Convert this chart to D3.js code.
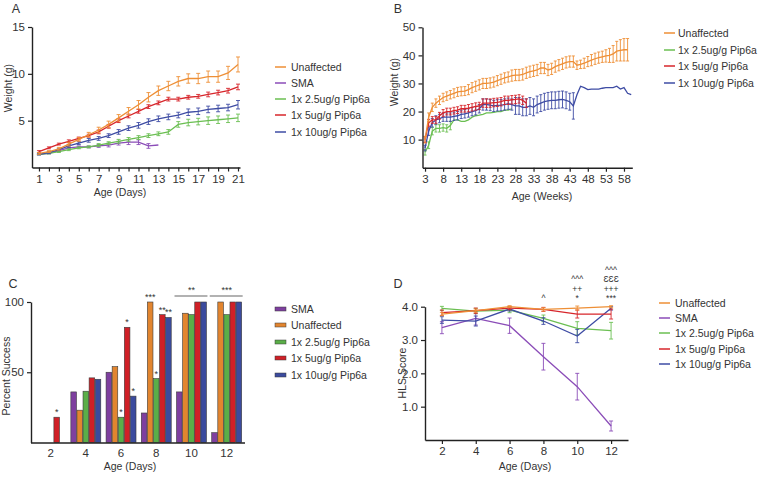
<!DOCTYPE html>
<html><head><meta charset="utf-8">
<script src="https://d3js.org/d3.v7.min.js"></script>
<style>
body{margin:0;background:#fff}
text{font-family:"Liberation Sans",Arial,sans-serif;fill:#333}
</style></head>
<body><svg id="c" width="758" height="477"></svg>
<script>
// ---------- Panel A data (Weight, days) ----------
const daysA = [1,2,3,4,5,6,7,8,9,10,11,12,13,14,15,16,17,18,19,20,21];
const aUnaff    = [1.5,1.7,2.0,2.5,3.0,3.5,4.0,4.6,5.3,6.0,6.7,7.5,8.2,8.7,9.2,9.5,9.5,9.7,9.7,10.1,11.0];
const aUnaffErr = [0.1,0.1,0.15,0.2,0.2,0.25,0.3,0.35,0.35,0.4,0.45,0.5,0.5,0.5,0.5,0.5,0.55,0.6,0.6,0.7,0.8];
const aSMA      = [1.4,1.5,1.8,2.1,2.2,2.2,2.3,2.4,2.6,2.7,2.7,2.3,2.4];
const aSMAErr   = [0.05,0.05,0.1,0.1,0.1,0.1,0.15,0.2,0.2,0.25,0.25,0.25,0];
const aLow      = [1.4,1.5,1.7,1.9,2.1,2.2,2.4,2.6,2.8,3.0,3.2,3.4,3.6,3.8,4.6,4.8,4.9,5.0,5.1,5.2,5.3];
const aLowErr   = [0.05,0.05,0.1,0.1,0.1,0.1,0.15,0.15,0.2,0.2,0.2,0.2,0.2,0.25,0.3,0.35,0.35,0.4,0.4,0.4,0.4];
const aMid      = [1.7,2.1,2.5,2.8,3.1,3.4,3.8,4.4,5.0,5.5,6.0,6.5,6.9,7.3,7.3,7.5,7.6,7.8,8.0,8.2,8.6];
const aMidErr   = [0.1,0.1,0.1,0.15,0.15,0.15,0.2,0.2,0.2,0.2,0.2,0.2,0.2,0.2,0.2,0.2,0.2,0.25,0.25,0.25,0.3];
const aHigh     = [1.4,1.6,1.9,2.3,2.6,2.9,3.1,3.4,3.8,4.2,4.5,4.9,5.2,5.4,5.6,5.9,6.0,6.2,6.3,6.4,6.7];
const aHighErr  = [0.05,0.1,0.1,0.15,0.15,0.2,0.2,0.2,0.25,0.25,0.3,0.3,0.3,0.3,0.3,0.35,0.35,0.35,0.35,0.35,0.45];
const aTicks = [1,3,5,7,9,11,13,15,17,19,21];
const aYTicks = [5,10,15];

// ---------- Panel B data (Weight, weeks) ----------
const bUnaff = [10,18,21.5,23,24,25,25.5,26,26.5,27,27.2,27.3,27.8,28.5,29,29.5,30,30,30.2,30.5,31,31.5,32,32.3,32.8,33,33,33.2,33.8,34.2,34.5,34.8,35.5,35.5,34.8,35.2,36,36.5,37,37.5,37.8,37.8,36.5,36.8,37.2,37.8,38.3,38.8,39.2,39.5,39.8,40,40.5,41.5,41.8,42,42];
const bUnaffErr = [1.2,1.5,1.5,1.5,1.5,1.5,1.5,1.5,1.6,1.6,1.6,1.6,1.8,1.8,1.8,1.8,1.8,1.8,1.8,1.8,1.8,1.8,1.8,1.8,2,2,2,2,2,2,2,2,2,2,2,2,2,2,2,2,2,2,1.5,1.5,1.8,1.8,2,2,2,2,2.2,2.5,3,3.5,3.8,4,4];
const bLow = [5.5,8,13,14,14,14.3,14,15,17,17,16.5,16.5,17,18,18.5,18.7,19,19.5,19.5,19.7,20,20,20.5,20.5,21];
const bLowErr = [1,1.2,1.3,1.3,1.3,1.3,1.3,1.5,0,0,0,0,0,0,0,0,0,0,0,0,0,0,0,0,0];
const bMid = [10,16,17,17,18.5,19.5,20,20,20.3,20.5,21,21,21.2,21.5,21.8,22,23,23,23,23.2,23.3,23.5,24,24,24.2,24.3,24.5,24,23];
const bMidErr = [1,1.2,1.2,1.2,1.2,1.2,1.2,1.2,1.2,1.2,1.2,1.2,1.3,1.3,1.3,1.3,1.5,1.5,1.5,1.5,1.5,1.5,1.5,1.5,1.5,1.5,1.5,1.5,1.5];
const bHigh = [7,13,16,17,17.5,18,18,18,18.3,18.5,19,19.2,19.5,20,20.3,21,22.5,22.5,22.3,22,22.2,22.3,22.5,22.8,22.5,22,22,21.5,21.5,22,21.5,22.5,23,23.5,23.8,24,24,24.2,24.3,24,23.5,22,26,29,28.5,27.8,28,28,28,28.3,28.5,28.5,28.5,29,28,28.5,26.5,26];
const bHighErr = [1,1.5,1.5,1.5,1.5,1.5,1.5,1.5,1.5,1.5,1.5,1.5,1.5,1.5,1.5,1.5,2,2,2,2,2,2,2,2,2,3,3,3,3,3,3,3,3,3,3,3,3,3,3,3,3,4.7,0,0,0,0,0,0,0,0,0,0,0,0,0,0,0,0];
const bTicks = [3,8,13,18,23,28,33,38,43,48,53,58];
const bYTicks = [10,20,30,40,50];

// ---------- Panel C data (Percent success) ----------
const cGroups = ["2","4","6","8","10","12"];
const cSMA   = [0,36,50,21,36,7];
const cUnaff = [0,23,54,100,92,100];
const cLow   = [0,36.5,18,45.5,91,91];
const cMid   = [18,46,82,91,100,100];
const cHigh  = [0,45,33,89,100,100];
const cStars = [["2","mid","*"],["6","low","*"],["6","mid","*"],["6","high","*"],["8","unaff","***"],["8","low","*"],["8","mid","**"],["8","high","**"]];
const cBrackets = [["10","**"],["12","***"]];
const cYTicks = [50,100];

// ---------- Panel D data (HLS score) ----------
const dDays = [2,4,6,8,10,12];
const dUnaff = [3.78,3.88,4.0,3.92,3.96,4.0];
const dUnaffErr = [0.05,0.05,0.03,0.05,0.06,0.03];
const dSMA = [3.37,3.65,3.43,2.5,1.6,0.42];
const dSMAErr = [0.18,0.2,0.23,0.4,0.4,0.15];
const dLow = [3.95,3.87,3.9,3.65,3.35,3.28];
const dLowErr = [0.06,0.08,0.08,0.1,0.2,0.25];
const dMid = [3.82,3.88,3.96,3.92,3.78,3.78];
const dMidErr = [0.08,0.08,0.05,0.06,0.12,0.15];
const dHigh = [3.6,3.57,3.93,3.57,3.12,3.95];
const dHighErr = [0.1,0.15,0.06,0.1,0.2,0.05];
const dAnnot = [[8,["^"]],[10,["^^^","++","*"]],[12,["^^^","ƐƐƐ","+++","***"]]];
const dYTicks = [1,2,3,4];

const lineCol = {unaff:"#EE8F36", sma:"#8B4DB8", low:"#6BBF52", mid:"#D7262B", high:"#3E4CA4"};
const barCol  = {sma:"#7E3F9F", unaff:"#E2852F", low:"#5AAE48", mid:"#D02027", high:"#3B4B9E"};
const names = {unaff:"Unaffected", sma:"SMA", low:"1x 2.5ug/g Pip6a", mid:"1x 5ug/g Pip6a", high:"1x 10ug/g Pip6a"};

const svg = d3.select("#c");

function styleAxis(g){
  g.selectAll(".domain").attr("stroke","#222").attr("stroke-width",1.4);
  g.selectAll(".tick line").attr("stroke","#222").attr("stroke-width",1.2);
  g.selectAll(".tick text").attr("font-size",11.5).attr("fill","#333").attr("font-family",'"Liberation Sans",Arial,sans-serif');
}
function label(x,y,t,size,rot){
  const e = svg.append("text").attr("font-size",size).attr("text-anchor","middle").text(t);
  if(rot) e.attr("transform",`translate(${x},${y}) rotate(-90)`);
  else e.attr("x",x).attr("y",y);
  return e;
}
function series(g,x,y,xs,vals,errs,col,cap){
  const pts = vals.map((v,i)=>({x:xs[i],v,e:errs?errs[i]:0}));
  g.append("path").datum(pts).attr("fill","none").attr("stroke",col).attr("stroke-width",1.3)
    .attr("d",d3.line().x(d=>x(d.x)).y(d=>y(d.v)));
  const eb = g.append("g").attr("stroke",col).attr("stroke-width",0.9);
  pts.filter(d=>d.e>0).forEach(d=>{
    eb.append("line").attr("x1",x(d.x)).attr("x2",x(d.x)).attr("y1",y(d.v-d.e)).attr("y2",y(d.v+d.e));
    [d.v-d.e,d.v+d.e].forEach(t=>eb.append("line").attr("x1",x(d.x)-cap).attr("x2",x(d.x)+cap).attr("y1",y(t)).attr("y2",y(t)));
  });
}
function lineLegend(x0,textX,ys,keys){
  keys.forEach((k,i)=>{
    svg.append("line").attr("x1",x0).attr("x2",x0+11).attr("y1",ys[i]).attr("y2",ys[i]).attr("stroke",lineCol[k]).attr("stroke-width",1.5);
    svg.append("text").attr("x",textX).attr("y",ys[i]+3.7).attr("font-size",10.5).text(names[k]);
  });
}

// ================= Panel A =================
{
  const x = d3.scaleLinear().domain([0.3,21.2]).range([32,240]);
  const y = d3.scaleLinear().domain([0,15]).range([167.5,27]);
  const g = svg.append("g");
  series(g,x,y,daysA,aSMA,aSMAErr,lineCol.sma,2);
  series(g,x,y,daysA,aLow,aLowErr,lineCol.low,2);
  series(g,x,y,daysA,aHigh,aHighErr,lineCol.high,2);
  series(g,x,y,daysA,aMid,aMidErr,lineCol.mid,2);
  series(g,x,y,daysA,aUnaff,aUnaffErr,lineCol.unaff,2);
  svg.append("g").attr("transform","translate(0,167.5)").call(d3.axisBottom(x).tickValues(daysA).tickSize(4).tickSizeOuter(0).tickFormat(d=>aTicks.includes(d)?d:"")).call(styleAxis);
  svg.append("g").attr("transform","translate(32,0)").call(d3.axisLeft(y).tickValues(aYTicks).tickSize(4).tickSizeOuter(0)).call(styleAxis);
  label(16,13,"A",12.5);
  label(12,88,"Weight (g)",10.5,true);
  label(120,196,"Age (Days)",10.5);
  lineLegend(275,291,[67,83,99,115,132],["unaff","sma","low","mid","high"]);
}

// ================= Panel B =================
{
  const x = d3.scaleLinear().domain([2.3,60.3]).range([422.5,632.3]);
  const y = d3.scaleLinear().domain([0,50]).range([167.7,27.3]);
  const g = svg.append("g");
  const wk = n => d3.range(3,3+n);
  series(g,x,y,wk(bLow.length),bLow,bLowErr,lineCol.low,1.5);
  series(g,x,y,wk(bHigh.length),bHigh,bHighErr,lineCol.high,1.5);
  series(g,x,y,wk(bMid.length),bMid,bMidErr,lineCol.mid,1.5);
  series(g,x,y,wk(bUnaff.length),bUnaff,bUnaffErr,lineCol.unaff,1.5);
  svg.append("g").attr("transform","translate(0,167.7)").call(d3.axisBottom(x).tickValues(bTicks).tickSize(4).tickSizeOuter(0)).call(styleAxis);
  svg.append("g").attr("transform","translate(422.5,0)").call(d3.axisLeft(y).tickValues(bYTicks).tickSize(4).tickSizeOuter(0)).call(styleAxis);
  label(398,13,"B",12.5);
  label(398,82,"Weight (g)",10.5,true);
  label(542,200,"Age (Weeks)",10.5);
  lineLegend(664,678,[33,50,66,83],["unaff","low","mid","high"]);
}

// ================= Panel C =================
{
  const keys = ["sma","unaff","low","mid","high"];
  const vals = {sma:cSMA,unaff:cUnaff,low:cLow,mid:cMid,high:cHigh};
  const x0 = d3.scaleBand().domain(cGroups).range([33,244.3]).paddingInner(0.15).paddingOuter(0.075);
  const x1 = d3.scaleBand().domain(keys).range([0,x0.bandwidth()]).paddingInner(0.08);
  const y = d3.scaleLinear().domain([0,100]).range([442.5,302]);
  const g = svg.append("g");
  cGroups.forEach((grp,gi)=>{
    keys.forEach(k=>{
      const v = vals[k][gi];
      if(v<=0) return;
      g.append("rect").attr("x",x0(grp)+x1(k)).attr("width",x1.bandwidth())
        .attr("y",y(v)).attr("height",y(0)-y(v)).attr("fill",barCol[k]).attr("stroke","#3a3a3a").attr("stroke-width",0.6);
    });
  });
  cStars.forEach(([grp,k,t])=>{
    const gi = cGroups.indexOf(grp);
    g.append("text").attr("x",x0(grp)+x1(k)+x1.bandwidth()/2).attr("y",y(vals[k][gi])-2)
      .attr("text-anchor","middle").attr("font-size",9).text(t);
  });
  cBrackets.forEach(([grp,t])=>{
    const gi = cGroups.indexOf(grp);
    const top = d3.max(keys,k=>vals[k][gi]);
    const yy = y(top)-6;
    g.append("line").attr("x1",x0(grp)-2).attr("x2",x0(grp)+x0.bandwidth()+1).attr("y1",yy).attr("y2",yy).attr("stroke","#999").attr("stroke-width",1.4);
    g.append("text").attr("x",x0(grp)+x0.bandwidth()/2).attr("y",yy-3).attr("text-anchor","middle").attr("font-size",9).text(t);
  });
  const xa = svg.append("g").attr("transform","translate(0,442.5)").call(d3.axisBottom(x0).tickSize(0).tickPadding(6).tickSizeOuter(0)).call(styleAxis);
  xa.select(".domain").attr("d","M31,0.5H245");
  svg.append("g").attr("transform","translate(31,0)").call(d3.axisLeft(y).tickValues(cYTicks).tickSize(4).tickSizeOuter(0)).call(styleAxis);
  label(13,288,"C",12.5);
  label(10,376,"Percent Success",10.5,true);
  label(130,470,"Age (Days)",10.5);
  const ys=[309,325,342,358,375];
  keys.forEach((k,i)=>{
    svg.append("rect").attr("x",275).attr("y",ys[i]-2).attr("width",11).attr("height",4).attr("fill",barCol[k]).attr("stroke","#3a3a3a").attr("stroke-width",0.5);
    svg.append("text").attr("x",291).attr("y",ys[i]+3.7).attr("font-size",10.5).text(names[k]);
  });
}

// ================= Panel D =================
{
  const x = d3.scaleLinear().domain([1,13]).range([425,628]);
  const y = d3.scaleLinear().domain([0,4]).range([440,306.7]);
  const g = svg.append("g");
  series(g,x,y,dDays,dSMA,dSMAErr,lineCol.sma,2);
  series(g,x,y,dDays,dLow,dLowErr,lineCol.low,2);
  series(g,x,y,dDays,dHigh,dHighErr,lineCol.high,2);
  series(g,x,y,dDays,dMid,dMidErr,lineCol.mid,2);
  series(g,x,y,dDays,dUnaff,dUnaffErr,lineCol.unaff,2);
  dAnnot.forEach(([d,lines])=>{
    const n = lines.length;
    lines.forEach((t,i)=>{
      g.append("text").attr("x",x(d)).attr("y",301-(n-1-i)*9.3).attr("text-anchor","middle").attr("font-size",8.5).text(t);
    });
  });
  svg.append("g").attr("transform","translate(0,440)").call(d3.axisBottom(x).tickValues(dDays).tickSize(4).tickSizeOuter(0)).call(styleAxis);
  svg.append("g").attr("transform","translate(425,0)").call(d3.axisLeft(y).tickValues(dYTicks).tickSize(4).tickSizeOuter(0)).call(styleAxis);
  label(398,288,"D",12.5);
  label(406,373,"HLS Score",10.5,true);
  label(525,470,"Age (Days)",10.5);
  lineLegend(659,675,[303,318,333,349,364],["unaff","sma","low","mid","high"]);
}
</script></body></html>
